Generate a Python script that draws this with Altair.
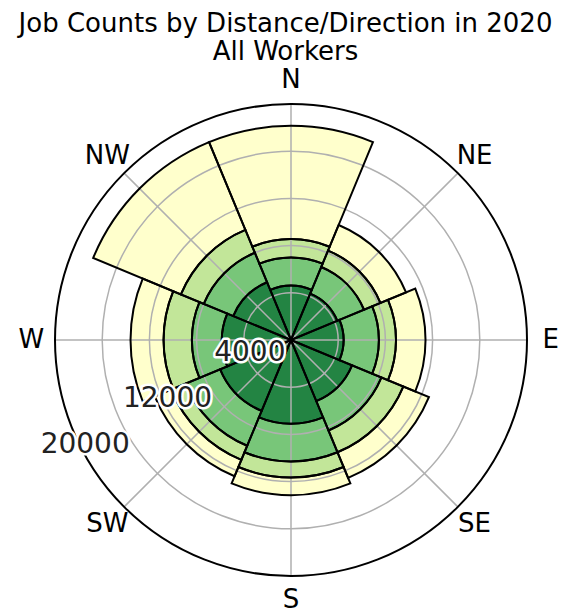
import altair as alt
import pandas as pd
import numpy as np

# ---- data ----
directions = ["N", "NE", "E", "SE", "S", "SW", "W", "NW"]
direction_angles = [0, 45, 90, 135, 180, 225, 270, 315]
distance_bands = ["Less than 10 miles", "10 to 24 miles", "25 to 50 miles", "Greater than 50 miles"]
less_than_10 = [4600, 4250, 4450, 5600, 7100, 6500, 5850, 5300]
from_10_to_24 = [2400, 2450, 3000, 2700, 3200, 3200, 2550, 2700]
from_25_to_50 = [1550, 1500, 1450, 2000, 1350, 1300, 2400, 2100]
greater_than_50 = [9600, 2350, 2500, 2350, 1500, 1500, 2800, 8050]
band_colors = ["#238443", "#78c679", "#c2e699", "#ffffcc"]
grid_values = [4000, 8000, 12000, 16000]
outer_value = 20000
radial_tick_values = [4000, 12000, 20000]
radial_tick_labels = ["4000", "12000", "20000"]
label_radius_value = 22000
radial_label_angle = 240.7

# ---- layout ----
CX, CY = 283, 252
R_PX = 236
W, H = 555, 527

series = [less_than_10, from_10_to_24, from_25_to_50, greater_than_50]
rows = []
for i, d in enumerate(directions):
    a = direction_angles[i]
    cum = 0
    for b, band in enumerate(distance_bands):
        v = series[b][i]
        rows.append({"direction": d, "band": band, "value": v,
                     "t0": a - 22.5, "t1": a + 22.5, "r0": cum, "r1": cum + v})
        cum += v
bars = pd.DataFrame(rows)

grid_df = pd.DataFrame({"r": grid_values, "g0": 0, "g1": 360})
outer_df = pd.DataFrame({"r": [outer_value], "g0": [0], "g1": [360]})
spokes_df = pd.DataFrame({"a": direction_angles, "r": outer_value})
dir_df = pd.DataFrame({"label": directions, "a": direction_angles, "r": label_radius_value})
rt_df = pd.DataFrame({"label": radial_tick_labels, "r": radial_tick_values, "a": radial_label_angle})

theta_scale = alt.Scale(domain=[0, 360], range=[0, 2 * np.pi])
r_scale = alt.Scale(type="linear", domain=[0, outer_value], range=[0, R_PX], zero=True, nice=False)
cx = alt.value(CX)
cy = alt.value(CY)


def polar(field_t, field_r):
    return dict(
        theta=alt.Theta(field_t, scale=theta_scale, stack=False),
        radius=alt.Radius(field_r, scale=r_scale, stack=False),
        x=cx, y=cy,
    )


fill_layer = alt.Chart(bars).mark_arc(strokeWidth=0).encode(
    theta2="t1:Q", radius2="r0:Q",
    fill=alt.Fill("band:N", scale=alt.Scale(domain=distance_bands, range=band_colors), legend=None),
    **polar("t0:Q", "r1:Q"),
)

grid_layer = alt.Chart(grid_df).mark_arc(fillOpacity=0, stroke="#b0b0b0", strokeWidth=1.5).encode(
    theta2="g1:Q", **polar("g0:Q", "r:Q"),
)

spoke_layer = alt.Chart(spokes_df).mark_arc(fillOpacity=0, stroke="#b0b0b0", strokeWidth=1.5).encode(
    theta2="a:Q", **polar("a:Q", "r:Q"),
)

edge_layer = alt.Chart(bars).mark_arc(fillOpacity=0, stroke="black", strokeWidth=2).encode(
    theta2="t1:Q", radius2="r0:Q", **polar("t0:Q", "r1:Q"),
)

outer_layer = alt.Chart(outer_df).mark_arc(fillOpacity=0, stroke="black", strokeWidth=2).encode(
    theta2="g1:Q", **polar("g0:Q", "r:Q"),
)

dir_layer = alt.Chart(dir_df).mark_text(font="DejaVu Sans", fontSize=26, color="black",
                                        align="center", baseline="middle").encode(
    text="label:N", **polar("a:Q", "r:Q"),
)

rt_halo = alt.Chart(rt_df).mark_text(font="DejaVu Sans", fontSize=28, color="white", stroke="white",
                                     strokeWidth=5, strokeJoin="round", dy=-10,
                                     align="center", baseline="middle").encode(
    text="label:N", **polar("a:Q", "r:Q"),
)

rt_text = alt.Chart(rt_df).mark_text(font="DejaVu Sans", fontSize=28, color="#222222", dy=-10,
                                     align="center", baseline="middle").encode(
    text="label:N", **polar("a:Q", "r:Q"),
)

chart = alt.layer(
    fill_layer, grid_layer, spoke_layer, edge_layer, outer_layer, dir_layer, rt_halo, rt_text
).properties(
    width=W, height=H,
    title=alt.TitleParams(
        text=["Job Counts by Distance/Direction in 2020", "All Workers"],
        font="DejaVu Sans", fontSize=26, fontWeight="normal", color="black",
        anchor="middle", lineHeight=28, offset=2,
    ),
    autosize=alt.AutoSizeParams(type="none"),
    padding={"left": 0, "right": 0, "top": 80, "bottom": 0},
).configure_view(stroke=None)

chart.save("out.html", embed_options={"renderer": "svg", "actions": False})
